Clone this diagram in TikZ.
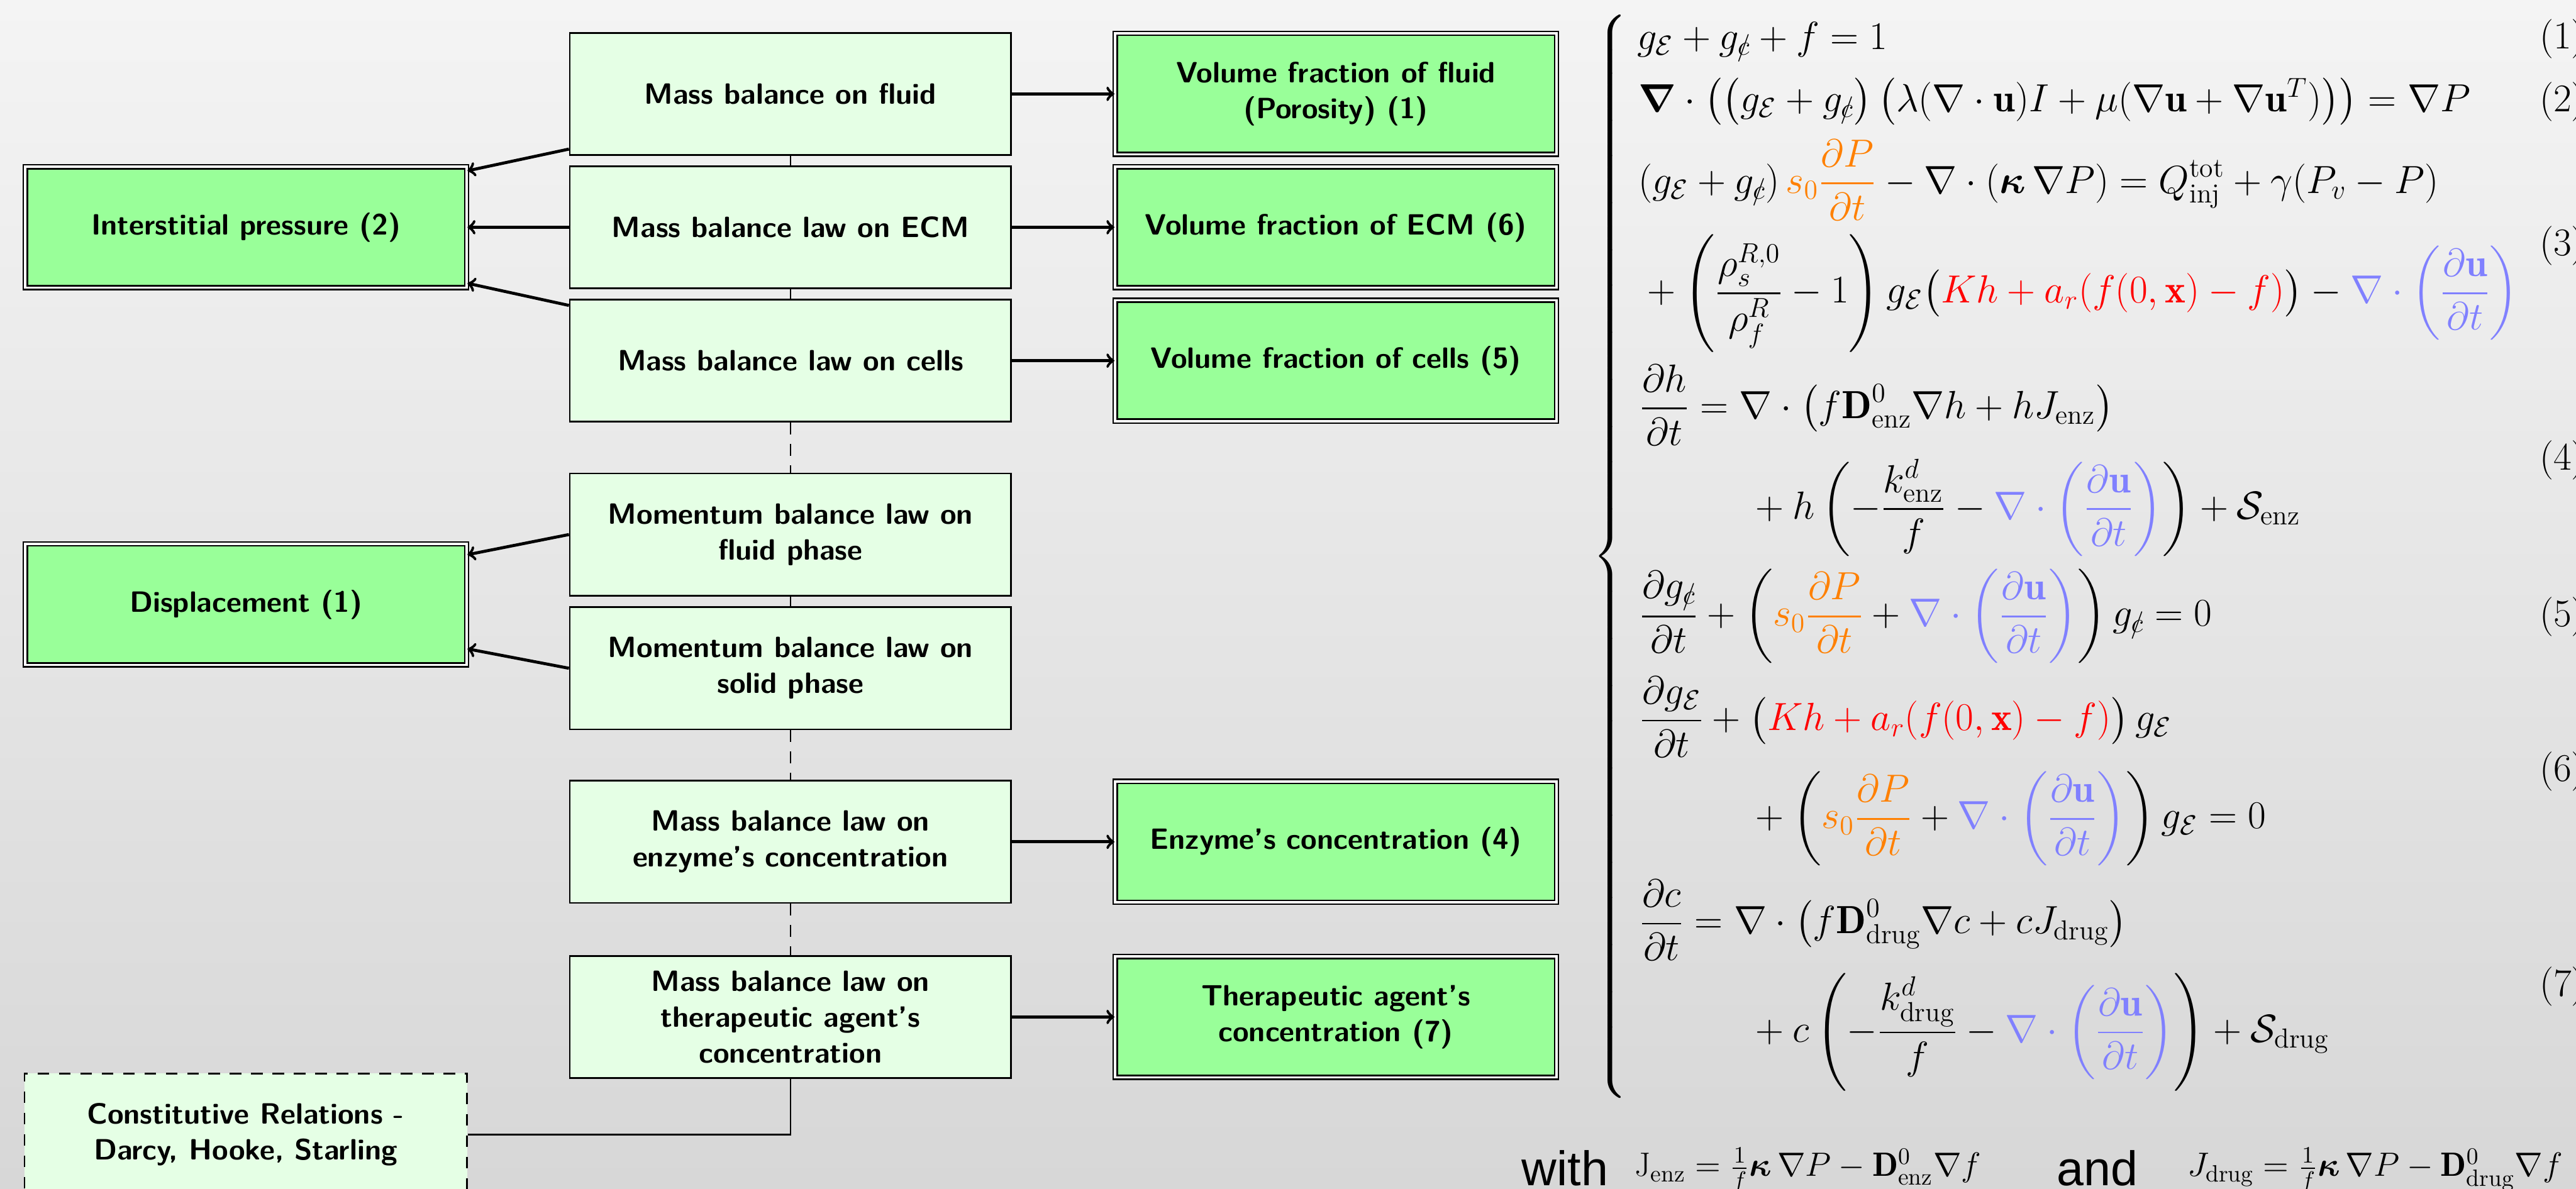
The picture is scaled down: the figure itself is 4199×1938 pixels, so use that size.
\documentclass[tikz,border=0pt]{standalone}
\usepackage{fix-cm}
\usepackage{amsmath,amssymb}
\usepackage{fontspec}
\newfontfamily\arialfont{Liberation Sans}
\usetikzlibrary{calc}
\definecolor{bgtop}{RGB}{244,244,244}
\definecolor{bgbot}{RGB}{215,215,215}
\definecolor{lightbox}{RGB}{229,255,229}
\definecolor{darkbox}{RGB}{153,255,153}
\definecolor{eqorange}{RGB}{255,128,0}
\definecolor{eqblue}{RGB}{128,128,255}
\newcommand{\centc}{\mathord{\ooalign{$\scriptstyle c$\cr\hidewidth$\scriptstyle/$\hidewidth\cr}}}
\newcommand{\gE}{g_{\mathcal{E}}}
\newcommand{\gC}{g_{\centc}}
\newcommand{\bdu}{\textcolor{eqblue}{\nabla\cdot\left(\frac{\partial\mathbf{u}}{\partial t}\right)}}
\newcommand{\sdp}{\textcolor{eqorange}{s_0\frac{\partial P}{\partial t}}}
\newcommand{\redpart}{\textcolor{red}{Kh + a_r(f(0,\mathbf{x}) - f)}}
\newcommand{\boxfont}{\fontsize{13.6}{16.6}\selectfont\sffamily\bfseries}
\newcommand{\eqsize}{\fontsize{18.2}{22}\selectfont}
\newcommand{\jsize}{\fontsize{15.6}{19}\selectfont}
\newcommand{\withsize}{\fontsize{22.5}{26}\selectfont\arialfont}
\begin{document}
\begin{tikzpicture}[x=0.01cm,y=-0.01cm,
  mbox/.style={draw=black, line width=0.8pt, fill=lightbox, minimum width=7.19cm, minimum height=1.99cm, align=center, font=\boxfont, inner sep=2pt},
  gbox/.style={draw=black, line width=0.7pt, double=white, double distance=1.1pt, fill=darkbox, minimum width=7.19cm, minimum height=1.97cm, align=center, font=\boxfont, inner sep=2pt},
  cbox/.style={draw=black, line width=0.7pt, dash pattern=on 5.4pt off 4.5pt, fill=lightbox, minimum width=7.21cm, minimum height=1.99cm, align=center, font=\boxfont, inner sep=2pt},
  arr/.style={->, line width=1.4pt},
  link/.style={line width=0.7pt},
  dlink/.style={line width=0.7pt, dash pattern=on 5.4pt off 4.5pt},
  eq/.style={anchor=base west, inner sep=0pt, font=\eqsize},
  eqnum/.style={anchor=base west, inner sep=0pt, font=\eqsize},
  jeq/.style={anchor=base west, inner sep=0pt, font=\jsize},
  wtxt/.style={anchor=base west, inner sep=0pt, font=\withsize}]
\useasboundingbox (0,0) rectangle (4199,1938);
\shade[top color=bgtop, bottom color=bgbot] (0,0) rectangle (4199,1938);

% middle column
\node[mbox] (m1) at (1288.5,153) {Mass balance on fluid};
\node[mbox] (m2) at (1288.5,370.5) {Mass balance law on ECM};
\node[mbox] (m3) at (1288.5,588) {Mass balance law on cells};
\node[mbox] (m4) at (1288.5,871.5) {Momentum balance law on\\fluid phase};
\node[mbox] (m5) at (1288.5,1089.5) {Momentum balance law on\\solid phase};
\node[mbox] (m6) at (1288.5,1372.5) {Mass balance law on\\enzyme’s concentration};
\node[mbox] (m7) at (1288.5,1658) {Mass balance law on\\therapeutic agent’s\\concentration};

% right column
\node[gbox] (g1) at (2177.5,153) {Volume fraction of fluid\\(Porosity) (1)};
\node[gbox] (g2) at (2177.5,370.5) {Volume fraction of ECM (6)};
\node[gbox] (g3) at (2177.5,588) {Volume fraction of cells (5)};
\node[gbox] (g4) at (2177.5,1372.5) {Enzyme’s concentration (4)};
\node[gbox] (g5) at (2177.5,1658) {Therapeutic agent’s\\concentration (7)};

% left column
\node[gbox] (ip) at (401,370.5) {Interstitial pressure (2)};
\node[gbox] (dp) at (401,985.5) {Displacement (1)};
\node[cbox, anchor=north] (cr) at (400.5,1749) {Constitutive Relations -\\Darcy, Hooke, Starling};

% vertical links
\draw[link] (m1.south) -- (m2.north);
\draw[link] (m2.south) -- (m3.north);
\draw[dlink] (m3.south) -- (m4.north);
\draw[link] (m4.south) -- (m5.north);
\draw[dlink] (m5.south) -- (m6.north);
\draw[dlink] (m6.south) -- (m7.north);
\draw[link] (m7.south) |- (cr.east);

% arrows right
\draw[arr] (m1.east) -- (g1.west);
\draw[arr] (m2.east) -- (g2.west);
\draw[arr] (m3.east) -- (g3.west);
\draw[arr] (m6.east) -- (g4.west);
\draw[arr] (m7.east) -- (g5.west);

% arrows left
\draw[arr] ([yshift=3.1pt]m1.south west) -- ([yshift=-2.2pt]ip.north east);
\draw[arr] (m2.west) -- (ip.east);
\draw[arr] ([yshift=-3.1pt]m3.north west) -- ([yshift=2.4pt]ip.south east);
\draw[arr] (m4.west) -- ([yshift=-5.3pt]dp.north east);
\draw[arr] (m5.west) -- ([yshift=7.8pt]dp.south east);

% brace
\node[inner sep=0pt, font=\eqsize] (br) at (2627,907) {$\left\{\vcenter{\hbox{\rule{0pt}{17.8cm}}}\right.$};

% equations
\node[eq] (e1) at (2668,80) {$\gE + \gC + f = 1$};
\node[eq] (e2) at (2670,182) {$\boldsymbol{\nabla}\cdot\bigl(\bigl(\gE+\gC\bigr)\,\bigl(\lambda(\nabla\cdot\mathbf{u})I+\mu(\nabla\mathbf{u}+\nabla\mathbf{u}^{T})\bigr)\bigr) = \nabla P$};
\node[eq] (e3a) at (2670,315) {$\displaystyle(\gE+\gC)\,\sdp - \nabla\cdot\left(\boldsymbol{\kappa}\,\nabla P\right) = Q^{\mathrm{tot}}_{\mathrm{inj}} + \gamma(P_v - P)$};
\node[eq] (e3b) at (2670,494) {$\displaystyle {}+\left(\frac{\rho_s^{R,0}}{\rho_f^{R}} - 1\right)\gE\bigl(\redpart\bigr) - \bdu$};
\node[eq] (e4a) at (2672,682) {$\displaystyle\frac{\partial h}{\partial t} = \nabla\cdot\left(f\mathbf{D}^{0}_{\mathrm{enz}}\nabla h + hJ_{\mathrm{enz}}\right)$};
\node[eq] (e4b) at (2847,846) {$\displaystyle {}+h\left(-\frac{k^d_{\mathrm{enz}}}{f} - \bdu\right) + \mathcal{S}_{\mathrm{enz}}$};
\node[eq] (e5) at (2672,1021) {$\displaystyle\frac{\partial \gC}{\partial t} + \left(\sdp + \bdu\right)\gC = 0$};
\node[eq] (e6a) at (2672,1191) {$\displaystyle\frac{\partial \gE}{\partial t} + \bigl(\redpart\bigr)\,\gE$};
\node[eq] (e6b) at (2847,1351) {$\displaystyle {}+\left(\sdp + \bdu\right)\gE = 0$};
\node[eq] (e7a) at (2672,1522) {$\displaystyle\frac{\partial c}{\partial t} = \nabla\cdot\left(f\mathbf{D}^{0}_{\mathrm{drug}}\nabla c + cJ_{\mathrm{drug}}\right)$};
\node[eq] (e7b) at (2847,1699) {$\displaystyle {}+c\left(-\frac{k^d_{\mathrm{drug}}}{f} - \bdu\right) + \mathcal{S}_{\mathrm{drug}}$};

% equation numbers
\node[eqnum] (n1) at (4139,79) {(1)};
\node[eqnum] (n2) at (4139,182) {(2)};
\node[eqnum] (n3) at (4139,417) {(3)};
\node[eqnum] (n4) at (4139,766) {(4)};
\node[eqnum] (n5) at (4139,1022) {(5)};
\node[eqnum] (n6) at (4139,1274) {(6)};
\node[eqnum] (n7) at (4139,1624) {(7)};

% bottom line
\node[wtxt] (w1) at (2480,1933) {with};
\node[jeq] (j1) at (2664,1918) {$\mathrm{J}_{\mathrm{enz}} = \frac{1}{f}\boldsymbol{\kappa}\,\nabla P - \mathbf{D}^{0}_{\mathrm{enz}}\nabla f$};
\node[wtxt] (w2) at (3352,1933) {and};
\node[jeq] (j2) at (3565,1918) {$J_{\mathrm{drug}} = \frac{1}{f}\boldsymbol{\kappa}\,\nabla P - \mathbf{D}^{0}_{\mathrm{drug}}\nabla f$};
\end{tikzpicture}
\end{document}
